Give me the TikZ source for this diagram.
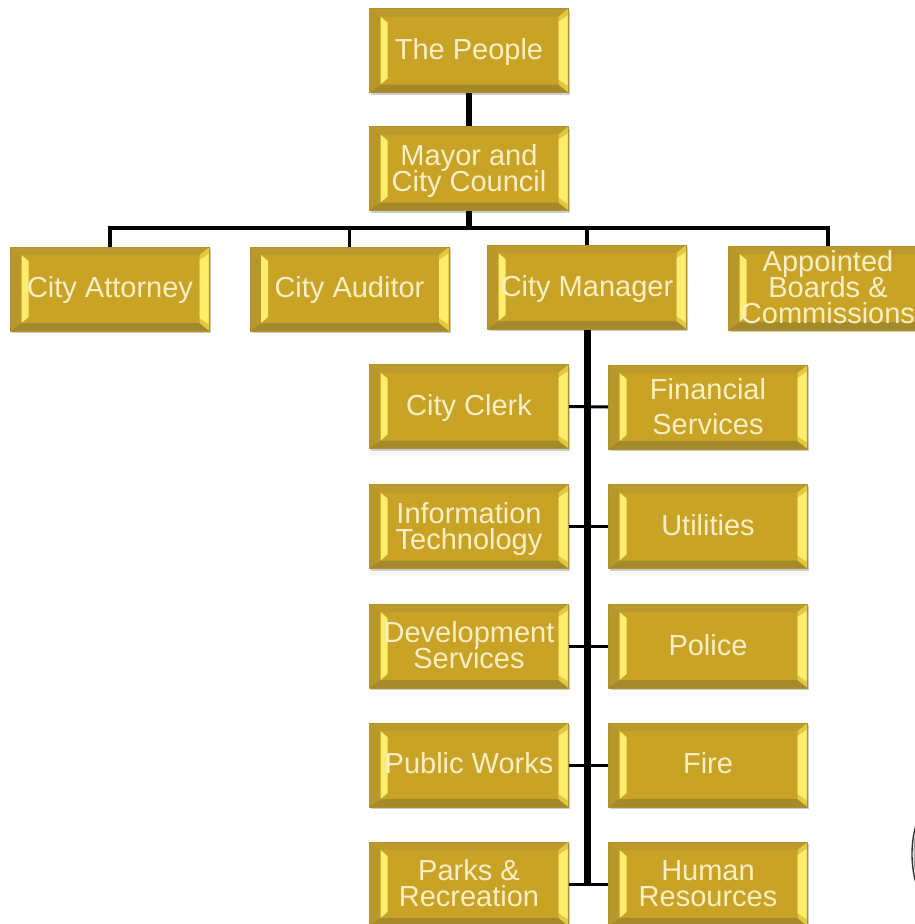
\documentclass[tikz,border=0pt]{standalone}
\usepackage{fontspec}
\setmainfont{Liberation Sans}
\usetikzlibrary{shadows}
\definecolor{gold}{HTML}{C9A325}
\definecolor{goldedge}{HTML}{AE9230}
\definecolor{goldtop}{HTML}{BC9A2B}
\definecolor{goldside}{HTML}{B8982A}
\definecolor{goldlow}{HTML}{A58A2C}
\definecolor{barlight}{HTML}{FFEE6E}
\definecolor{barmid}{HTML}{E4C93E}
\definecolor{labeltext}{HTML}{F8EFC6}
\newcommand{\lbl}[2][0]{\raisebox{#1pt}[\height][\depth]{\begin{tabular}{@{}c@{}}#2\end{tabular}}}
\tikzset{
  x=1pt,y=-1pt,
  bevelbox/.style={
    rectangle,minimum width=199pt,minimum height=84pt,inner sep=0pt,
    fill=gold,draw=goldedge,line width=1pt,
    text=labeltext,align=center,font=\fontsize{29}{26}\selectfont,
    drop shadow={shadow xshift=1.5pt,shadow yshift=-2pt,fill=black!50,opacity=.4},
    path picture={
      \begin{scope}[x=1pt,y=1pt]
      \coordinate (sw) at (path picture bounding box.south west);
      \coordinate (ne) at (path picture bounding box.north east);
      \coordinate (nw) at (path picture bounding box.north west);
      \coordinate (se) at (path picture bounding box.south east);
      \fill[goldside] (nw) -- ([shift={(11,-8)}]nw) -- ([shift={(11,8)}]sw) -- (sw) -- cycle;
      \fill[goldtop] (nw) -- (ne) -- ([shift={(-10,-8)}]ne) -- ([shift={(11,-8)}]nw) -- cycle;
      \fill[goldlow] (sw) -- (se) -- ([shift={(-10,8)}]se) -- ([shift={(11,8)}]sw) -- cycle;
      \fill[barmid] (ne) -- ([shift={(-10,-8)}]ne) -- ([shift={(-10,8)}]se) -- (se) -- cycle;
      \fill[barlight] ([shift={(-10,-13)}]ne) -- ([shift={(-1,-7)}]ne) -- ([shift={(-1,7)}]se) -- ([shift={(-10,13)}]se) -- cycle;
      \fill[barlight] ([shift={(11,-8)}]nw) -- ([shift={(18,-14)}]nw) -- ([shift={(18,14)}]sw) -- ([shift={(11,8)}]sw) -- cycle;
      \end{scope}
    }
  },
  trunk/.style={draw=black,line width=7pt},
  stem/.style={draw=black,line width=6pt},
  bus/.style={draw=black,line width=3.2pt},
  branch/.style={draw=black,line width=3pt},
}
\begin{document}
\begin{tikzpicture}
\useasboundingbox (0,0) rectangle (915,924);
\clip (0,0) rectangle (915,924);
\fill[white] (0,0) rectangle (915,924);
% seal cut off by the lower right corner
\draw[black!80,line width=1.4pt] (942,854) ellipse (30 and 58);
\draw[black!45,line width=1pt] (943,854) ellipse (29 and 56);
% boxes
\node[bevelbox] (people) at (469,50.5) {\lbl[-2]{The People}};
\node[bevelbox] (mayor) at (469,168.5) {\lbl[-3.5]{Mayor and\\[-3pt]City Council}};
\node[bevelbox] (attorney) at (110,289) {\lbl[-2]{City Attorney}};
\node[bevelbox] (auditor) at (349.5,289) {\lbl[-2]{City Auditor}};
\node[bevelbox] (manager) at (587,287) {\lbl[-3]{City Manager}};
\node[bevelbox] (boards) at (828,288) {\lbl[-3]{Appointed\\[-3pt]Boards \&\\[-3pt]Commissions}};
\node[bevelbox] (clerk) at (469,406.5) {\lbl[-2]{City Clerk}};
\node[bevelbox] (finance) at (708,407) {\lbl[-3.5]{Financial\\[6pt]Services}};
\node[bevelbox] (it) at (469,526.5) {\lbl[-3.5]{Information\\[-3pt]Technology}};
\node[bevelbox] (utilities) at (708,526.5) {\lbl[-2]{Utilities}};
\node[bevelbox] (devserv) at (469,646) {\lbl[-2.5]{Development\\[-3pt]Services}};
\node[bevelbox] (police) at (708,646) {\lbl[-3]{Police}};
\node[bevelbox] (works) at (469,765) {\lbl[-2]{Public Works}};
\node[bevelbox] (fire) at (708,765) {\lbl[-2]{Fire}};
\node[bevelbox] (parks) at (469,884) {\lbl[-2.5]{Parks \&\\[-3pt]Recreation}};
\node[bevelbox] (hr) at (708,884) {\lbl[-3.5]{Human\\[-1pt]Resources}};
% connectors
\coordinate (hub) at (469,228);
\draw[stem] (people.south) -- (mayor.north);
\draw[stem] (mayor.south) -- (hub);
\draw[bus] (hub) -| (attorney.north);
\draw[bus] (hub) -| (auditor.north);
\draw[bus] (hub) -| (manager.north);
\draw[bus] (hub) -| (boards.north);
\coordinate (end) at (587,885);
\draw[trunk] (manager.south) -- (end);
\draw[branch] (clerk.east) -- (finance.west);
\draw[branch] (it.east) -- (utilities.west);
\draw[branch] (devserv.east) -- (police.west);
\draw[branch] (works.east) -- (fire.west);
\draw[branch] (parks.east) -- (hr.west);
\end{tikzpicture}
\end{document}
